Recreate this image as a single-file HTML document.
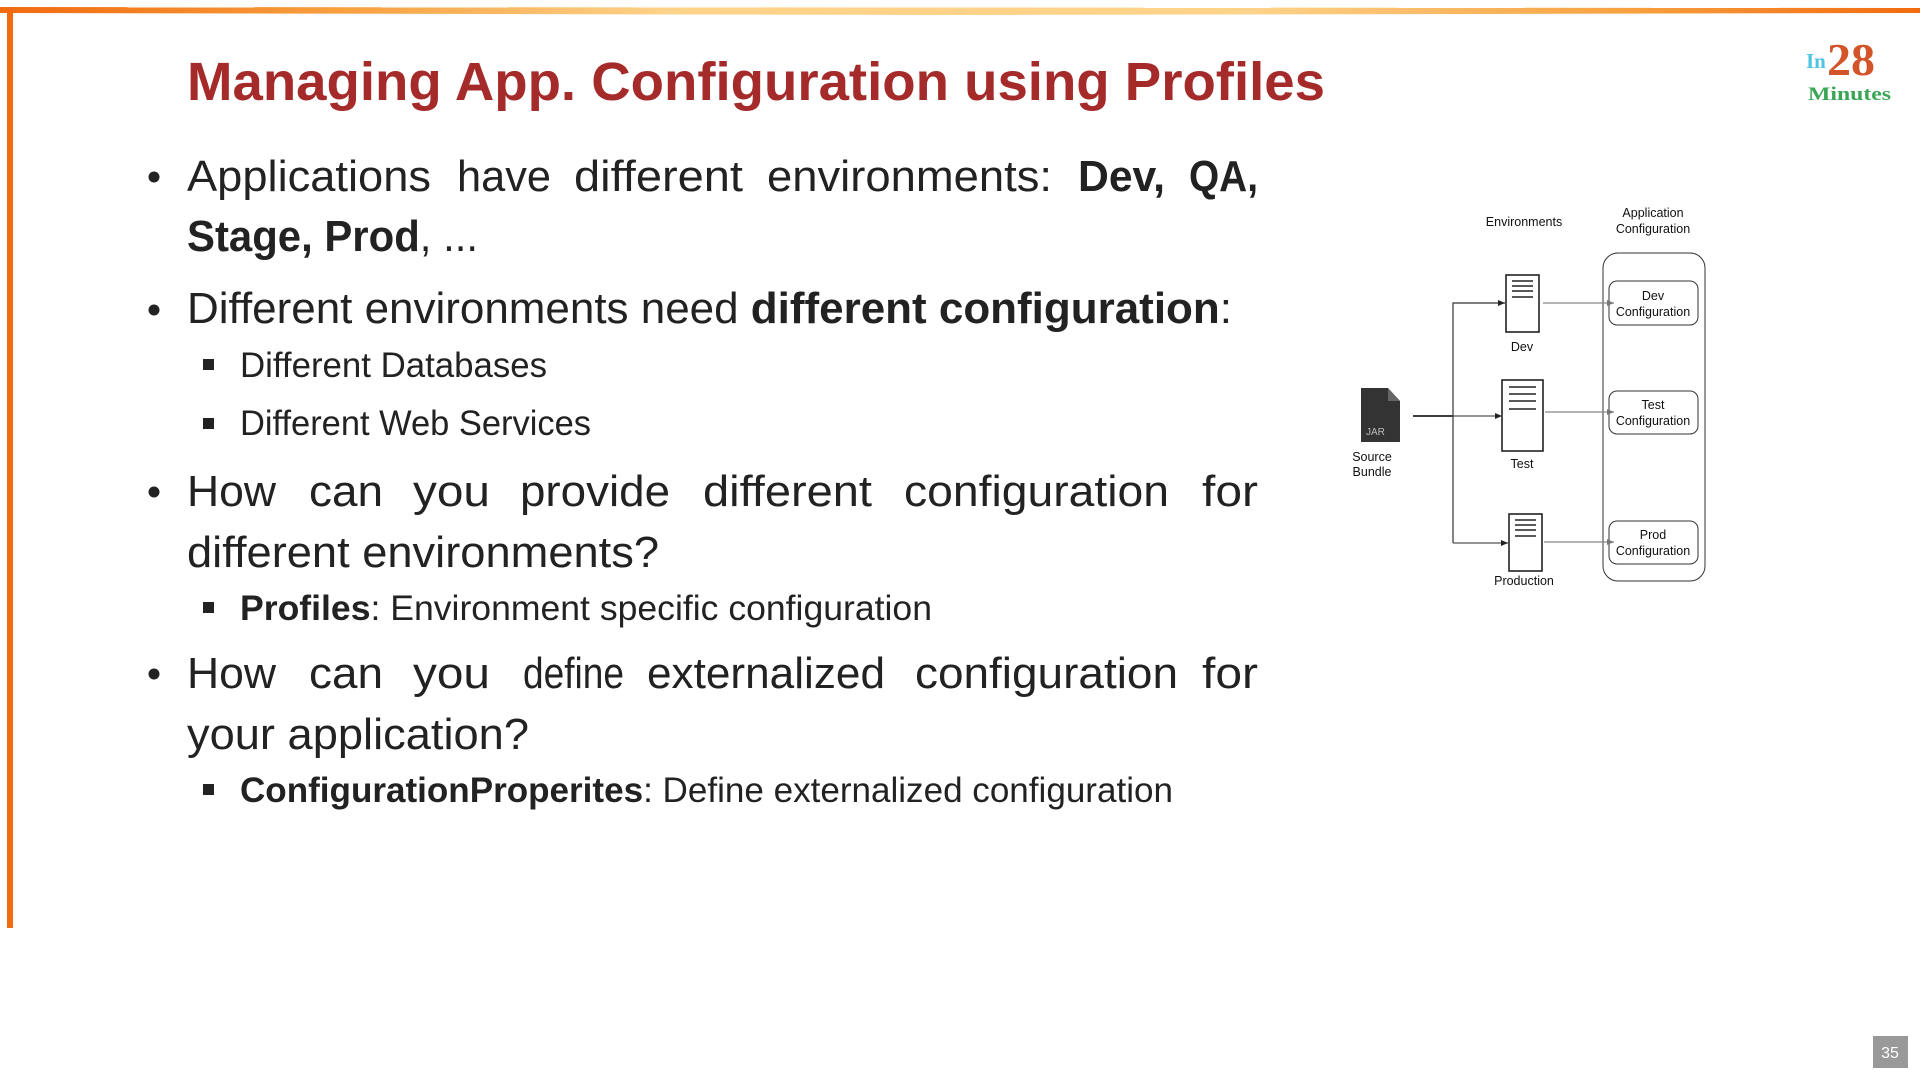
<!DOCTYPE html>
<html><head><meta charset="utf-8"><style>
html,body{margin:0;padding:0;background:#fff;width:1920px;height:1080px;overflow:hidden}
svg{display:block}
.t{font-family:"Liberation Sans",sans-serif;fill:#222}
.b{font-weight:bold}
.d{font-family:"Liberation Sans",sans-serif;font-size:12.5px;fill:#111;text-anchor:middle}
</style></head><body>
<svg width="1920" height="1080" viewBox="0 0 1920 1080">
<defs>
<linearGradient id="tg" x1="0" x2="1" y1="0" y2="0">
<stop offset="0" stop-color="#f26a0f"/><stop offset="0.18" stop-color="#f7a040"/>
<stop offset="0.35" stop-color="#fdd38a"/><stop offset="0.65" stop-color="#fdd38a"/>
<stop offset="0.85" stop-color="#f7a040"/><stop offset="1" stop-color="#f26a0f"/></linearGradient>
<marker id="ah" markerWidth="8" markerHeight="8" refX="7" refY="4" orient="auto" markerUnits="userSpaceOnUse"><path d="M0,1 L7,4 L0,7 Z" fill="#222"/></marker>
<marker id="ag" markerWidth="8" markerHeight="8" refX="7" refY="4" orient="auto" markerUnits="userSpaceOnUse"><path d="M0,1 L7,4 L0,7 Z" fill="#777"/></marker>
</defs>
<!-- borders -->
<path d="M0,7 L1920,8 L1920,13 L960,15 L0,13 Z" fill="url(#tg)"/>
<rect x="7" y="8" width="6" height="920" fill="#f26a0f"/>
<!-- title -->
<text x="187" y="100" textLength="1138" lengthAdjust="spacingAndGlyphs" style="font-family:'Liberation Sans',sans-serif;font-weight:bold;font-size:54px;fill:#a52a2a">Managing App. Configuration using Profiles</text>
<!-- logo -->
<text x="1806" y="68" style="font-family:'Liberation Serif',serif;font-weight:bold;font-size:21px;fill:#4fc3e0">In</text>
<text x="1827" y="75" textLength="48" lengthAdjust="spacingAndGlyphs" style="font-family:'Liberation Serif',serif;font-weight:bold;font-size:46px;fill:#d4542a">28</text>
<text x="1808" y="100" textLength="83" lengthAdjust="spacingAndGlyphs" style="font-family:'Liberation Serif',serif;font-weight:bold;font-size:19px;fill:#3aa655">Minutes</text>
<!-- bullets -->
<g fill="#222">
<circle cx="154" cy="177" r="5.5"/><circle cx="154" cy="310" r="5.5"/>
<circle cx="154" cy="492" r="5.5"/><circle cx="154" cy="674" r="5.5"/>
<rect x="203" y="359" width="11" height="11"/><rect x="203" y="418" width="11" height="11"/>
<rect x="203" y="602" width="11" height="11"/><rect x="203" y="784" width="11" height="11"/>
</g>
<g class="t" style="font-size:44px">
<text x="187" y="191" textLength="244" lengthAdjust="spacingAndGlyphs">Applications</text>
<text x="457" y="191" textLength="94" lengthAdjust="spacingAndGlyphs">have</text>
<text x="574" y="191" textLength="169" lengthAdjust="spacingAndGlyphs">different</text>
<text x="767" y="191" textLength="285" lengthAdjust="spacingAndGlyphs">environments:</text>
<text class="b" x="1078" y="191" textLength="87" lengthAdjust="spacingAndGlyphs">Dev,</text>
<text class="b" x="1189" y="191" textLength="69" lengthAdjust="spacingAndGlyphs">QA,</text>
<text x="187" y="251" textLength="291" lengthAdjust="spacingAndGlyphs"><tspan class="b">Stage, Prod</tspan>, ...</text>
<text x="187" y="323" textLength="1045" lengthAdjust="spacingAndGlyphs">Different environments need <tspan class="b">different configuration</tspan>:</text>
<text x="187" y="506" textLength="89" lengthAdjust="spacingAndGlyphs">How</text>
<text x="309" y="506" textLength="74" lengthAdjust="spacingAndGlyphs">can</text>
<text x="413" y="506" textLength="77" lengthAdjust="spacingAndGlyphs">you</text>
<text x="520" y="506" textLength="150" lengthAdjust="spacingAndGlyphs">provide</text>
<text x="703" y="506" textLength="169" lengthAdjust="spacingAndGlyphs">different</text>
<text x="904" y="506" textLength="265" lengthAdjust="spacingAndGlyphs">configuration</text>
<text x="1202" y="506" textLength="56" lengthAdjust="spacingAndGlyphs">for</text>
<text x="187" y="567" textLength="472" lengthAdjust="spacingAndGlyphs">different environments?</text>
<text x="187" y="688" textLength="89" lengthAdjust="spacingAndGlyphs">How</text>
<text x="309" y="688" textLength="74" lengthAdjust="spacingAndGlyphs">can</text>
<text x="413" y="688" textLength="77" lengthAdjust="spacingAndGlyphs">you</text>
<text x="523" y="688" textLength="101" lengthAdjust="spacingAndGlyphs">define</text>
<text x="647" y="688" textLength="238" lengthAdjust="spacingAndGlyphs">externalized</text>
<text x="915" y="688" textLength="263" lengthAdjust="spacingAndGlyphs">configuration</text>
<text x="1202" y="688" textLength="56" lengthAdjust="spacingAndGlyphs">for</text>
<text x="187" y="749" textLength="342" lengthAdjust="spacingAndGlyphs">your application?</text>
</g>
<g class="t" style="font-size:35px">
<text x="240" y="377" textLength="307" lengthAdjust="spacingAndGlyphs">Different Databases</text>
<text x="240" y="435" textLength="351" lengthAdjust="spacingAndGlyphs">Different Web Services</text>
<text x="240" y="620" textLength="692" lengthAdjust="spacingAndGlyphs"><tspan class="b">Profiles</tspan>: Environment specific configuration</text>
<text x="240" y="802" textLength="933" lengthAdjust="spacingAndGlyphs"><tspan class="b">ConfigurationProperites</tspan>: Define externalized configuration</text>
</g>
<!-- diagram -->
<text class="d" x="1524" y="226">Environments</text>
<text class="d" x="1653" y="217">Application</text>
<text class="d" x="1653" y="233">Configuration</text>
<rect x="1603" y="253" width="102" height="328" rx="15" fill="none" stroke="#333" stroke-width="1"/>
<g fill="#fff" stroke="#333" stroke-width="1">
<rect x="1609" y="281" width="89" height="44" rx="8"/>
<rect x="1609" y="391" width="89" height="43" rx="8"/>
<rect x="1609" y="521" width="89" height="43" rx="8"/>
</g>
<text class="d" x="1653" y="300">Dev</text><text class="d" x="1653" y="316">Configuration</text>
<text class="d" x="1653" y="409">Test</text><text class="d" x="1653" y="425">Configuration</text>
<text class="d" x="1653" y="539">Prod</text><text class="d" x="1653" y="555">Configuration</text>
<!-- servers -->
<g fill="#fff" stroke="#222" stroke-width="1.6">
<rect x="1506" y="275" width="33" height="57"/>
<rect x="1502" y="380" width="41" height="71"/>
<rect x="1509" y="514" width="33" height="57"/>
</g>
<g stroke="#222" stroke-width="1.5">
<path d="M1512,281h21M1512,286h21M1512,291h21M1512,297h21"/>
<path d="M1509,387h27M1509,394h27M1509,401h27M1509,409h27"/>
<path d="M1515,520h21M1515,525h21M1515,530h21M1515,536h21"/>
</g>
<text class="d" x="1522" y="351">Dev</text>
<text class="d" x="1522" y="468">Test</text>
<text class="d" x="1524" y="585">Production</text>
<!-- JAR -->
<path d="M1361,388 h27 l12,13 v41 h-39 Z" fill="#333"/>
<path d="M1388,388 v13 h12 Z" fill="#666"/>
<text x="1366" y="435" style="font-family:'Liberation Sans',sans-serif;font-size:10px;fill:#bbb">JAR</text>
<text class="d" x="1372" y="461">Source</text><text class="d" x="1372" y="476">Bundle</text>
<!-- connectors -->
<g fill="none" stroke-width="1.2">
<path d="M1413,416 H1453" stroke="#222" stroke-width="1.8"/>
<path d="M1453,543 V303 H1505" stroke="#333" marker-end="url(#ah)"/>
<path d="M1453,416 H1502" stroke="#555" marker-end="url(#ah)"/>
<path d="M1453,543 H1508" stroke="#555" marker-end="url(#ah)"/>
<path d="M1543,303 H1614" stroke="#888" marker-end="url(#ag)"/>
<path d="M1545,412 H1614" stroke="#888" marker-end="url(#ag)"/>
<path d="M1544,542 H1614" stroke="#888" marker-end="url(#ag)"/>
</g>
<!-- page number -->
<rect x="1873" y="1036" width="35" height="32" fill="#999"/>
<text x="1890" y="1058" text-anchor="middle" style="font-family:'Liberation Sans',sans-serif;font-size:16px;fill:#fff">35</text>
</svg>
</body></html>
